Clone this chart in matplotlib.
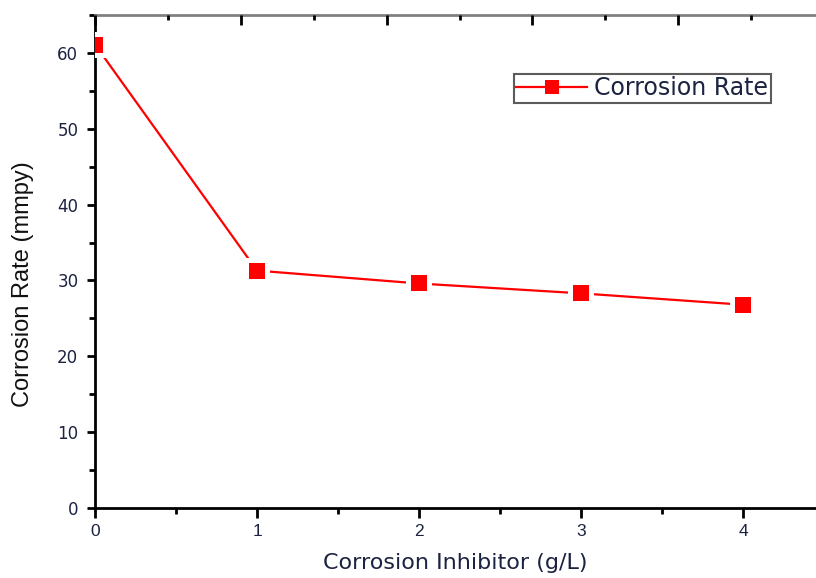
import matplotlib
matplotlib.use("Agg")
import matplotlib.pyplot as plt
from matplotlib.ticker import MultipleLocator
from matplotlib.lines import Line2D

inhibitor = [0, 1, 2, 3, 4]
corrosion_rate = [61.1, 31.3, 29.6, 28.3, 26.8]
x_ticks = [0, 1, 2, 3, 4]
y_ticks = [0, 10, 20, 30, 40, 50, 60]

plt.rcParams['font.family'] = ['Liberation Sans', 'DejaVu Sans']
txt = '#1c2340'

fig = plt.figure(figsize=(8.16, 5.78), dpi=100)
ax = fig.add_axes([95/816, 70/578, (816-95)/816, 493/578])

ax.plot(inhibitor, corrosion_rate, color='#ff0000', lw=1.6, zorder=2)
ax.plot(inhibitor, corrosion_rate, 's', color='white', ms=19, zorder=3, mew=0)
ax.plot(inhibitor, corrosion_rate, 's', color='#ff0000', ms=11.5, zorder=4, mew=0)

ax.set_xlim(0, 4.45)
ax.set_ylim(0, 65)
ax.set_xticks(x_ticks)
ax.set_yticks(y_ticks)
ax.xaxis.set_minor_locator(MultipleLocator(0.5))
ax.yaxis.set_minor_locator(MultipleLocator(5))

ax.spines['right'].set_visible(False)
ax.spines['top'].set_color('#808080')
ax.spines['top'].set_linewidth(2)
for s in ('left', 'bottom'):
    ax.spines[s].set_linewidth(2)
    ax.spines[s].set_color('black')

ax.tick_params(axis='y', which='major', direction='out', length=6, width=2,
               labelsize=12, labelcolor=txt, pad=6)
ax.tick_params(axis='x', which='major', direction='out', length=7.5, width=2,
               labelsize=12.5, labelcolor=txt, pad=4)
ax.tick_params(axis='both', which='minor', direction='out', length=4, width=2)
for lab in ax.get_yticklabels():
    lab.set_family(['DejaVu Sans'])

top = ax.twiny()
top.set_xlim(ax.get_xlim())
top.set_xticks([0, 0.9, 1.8, 2.7, 3.6])
top.xaxis.set_minor_locator(MultipleLocator(0.45))
top.tick_params(axis='x', which='major', direction='in', length=7, width=2,
                labeltop=False)
top.tick_params(axis='x', which='minor', direction='in', length=3.5, width=2)
for s in top.spines.values():
    s.set_visible(False)

ax.set_xlabel('Corrosion Inhibitor (g/L)', fontsize=16, color=txt,
              family=['DejaVu Sans'], labelpad=10)
ax.set_ylabel('Corrosion Rate (mmpy)', fontsize=17, color='#111111',
              family=['Liberation Sans'])
ax.yaxis.set_label_coords(-61/721, (508-284)/493)

h = Line2D([], [], color='#ff0000', lw=1.6, marker='s', ms=10, mew=0)
leg = ax.legend([h], ['Corrosion Rate'], loc='upper left',
                bbox_to_anchor=((514-95)/721, 1-(74-15)/493),
                prop={'family': 'DejaVu Sans', 'size': 17},
                frameon=True, fancybox=False, handlelength=3.0,
                borderpad=0.1, handletextpad=0.3, borderaxespad=0)
leg.get_frame().set_edgecolor('#333333')
leg.get_frame().set_linewidth(1.5)
for t in leg.get_texts():
    t.set_color(txt)

fig.savefig('out.png', dpi=100)
